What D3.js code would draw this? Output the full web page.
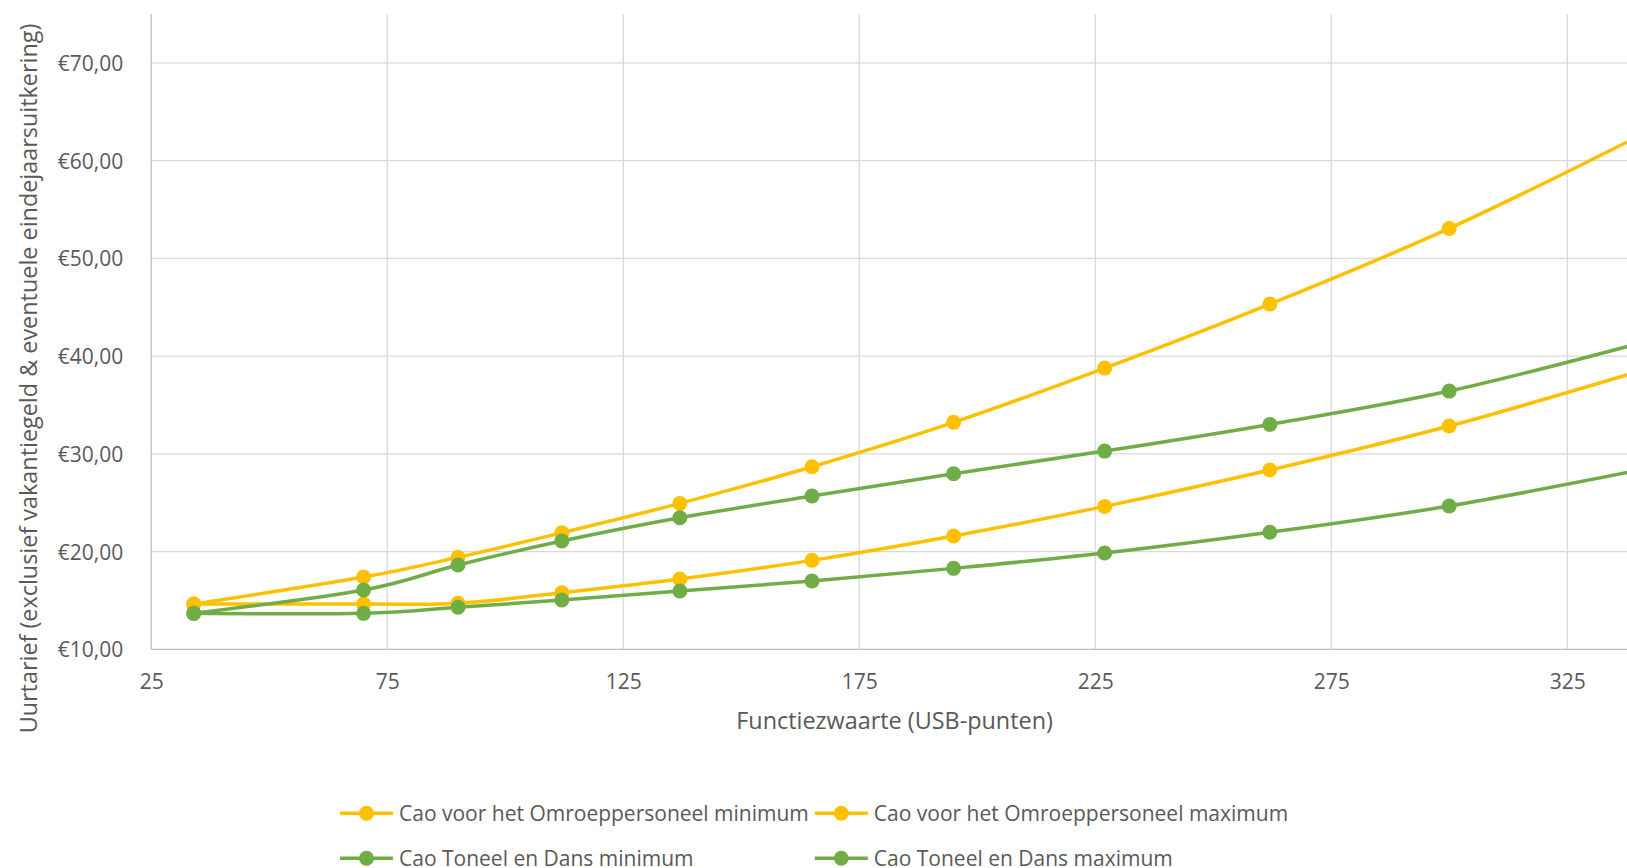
<!DOCTYPE html>
<html>
<head>
<meta charset="utf-8">
<script src="https://cdn.jsdelivr.net/npm/d3@7"></script>
<style>
  body { margin: 0; background: #fff; }
  svg { display: block; }
  text { font-family: "Open Sans", "Noto Sans", sans-serif; fill: #595959; }
</style>
</head>
<body>
<svg id="chart" width="1627" height="868"></svg>
<script>
// Functiezwaarte (USB-punten) of each function level
const usbPoints = [34, 70, 90, 112, 137, 165, 195, 227, 262, 300, 341];

// Hourly rates (euro) per collective agreement
const omroepMin  = [14.63, 14.63, 14.70, 15.79, 17.19, 19.10, 21.59, 24.62, 28.34, 32.84, 38.55];
const omroepMax  = [14.63, 17.39, 19.41, 21.93, 24.93, 28.68, 33.22, 38.77, 45.32, 53.06, 62.70];
const toneelMin  = [13.68, 13.68, 14.30, 15.04, 15.96, 16.99, 18.28, 19.85, 21.97, 24.66, 28.40];
const toneelMax  = [13.68, 16.07, 18.62, 21.08, 23.46, 25.68, 27.96, 30.28, 33.01, 36.42, 41.40];

const seriesNames = [
  "Cao voor het Omroeppersoneel minimum",
  "Cao voor het Omroeppersoneel maximum",
  "Cao Toneel en Dans minimum",
  "Cao Toneel en Dans maximum"
];
const seriesColors = ["#FFC000", "#FFC000", "#70AD47", "#70AD47"];

const xTicks = [25, 75, 125, 175, 225, 275, 325];
const yTicks = [10, 20, 30, 40, 50, 60, 70];
const xDomain = [25, 340];
const yDomain = [10, 75];

const series = [omroepMin, omroepMax, toneelMin, toneelMax].map((vals, i) => ({
  name: seriesNames[i],
  color: seriesColors[i],
  points: usbPoints.map((x, j) => ({ x, y: vals[j] }))
}));

const plot = { left: 151.2, right: 1638, top: 14, bottom: 649.3 };

const svg = d3.select("#chart");

const x = d3.scaleLinear().domain(xDomain).range([plot.left, plot.right]);
const y = d3.scaleLinear().domain(yDomain).range([plot.bottom, plot.top]);

const euro = d3.formatLocale({ decimal: ",", thousands: ".", grouping: [3], currency: ["€", ""] }).format("$.2f");

// Gridlines
svg.append("g").selectAll("line").data(yTicks.slice(1)).join("line")
  .attr("x1", plot.left).attr("x2", plot.right)
  .attr("y1", d => y(d)).attr("y2", d => y(d))
  .attr("stroke", "#D9D9D9").attr("stroke-width", 1.3);
svg.append("g").selectAll("line").data(xTicks).join("line")
  .attr("x1", d => x(d)).attr("x2", d => x(d))
  .attr("y1", plot.top).attr("y2", plot.bottom)
  .attr("stroke", d => d === xTicks[0] ? "#BFBFBF" : "#D9D9D9").attr("stroke-width", 1.3);

// Horizontal axis line
svg.append("line")
  .attr("x1", plot.left).attr("x2", plot.right)
  .attr("y1", y(yDomain[0])).attr("y2", y(yDomain[0]))
  .attr("stroke", "#BFBFBF").attr("stroke-width", 1.3);

// Axes (labels only)
const yAxis = svg.append("g")
  .attr("transform", `translate(${plot.left},0)`)
  .call(d3.axisLeft(y).tickValues(yTicks).tickFormat(euro).tickSize(0).tickPadding(28));
const xAxis = svg.append("g")
  .attr("transform", `translate(0,${plot.bottom})`)
  .call(d3.axisBottom(x).tickValues(xTicks).tickFormat(d3.format("d")).tickSize(0).tickPadding(25));
[yAxis, xAxis].forEach(g => {
  g.select(".domain").remove();
  g.selectAll("text").attr("fill", "#595959")
    .style("font-family", '"Open Sans", "Noto Sans", sans-serif')
    .style("font-size", "21px");
});
yAxis.selectAll("text").attr("dy", "0.36em");

// Axis titles
svg.append("text")
  .attr("x", (plot.left + plot.right) / 2).attr("y", 729)
  .attr("text-anchor", "middle")
  .style("font-size", "23.4px")
  .text("Functiezwaarte (USB-punten)");
svg.append("text")
  .attr("transform", "translate(37,378.5) rotate(-90)")
  .attr("text-anchor", "middle")
  .style("font-size", "23.4px")
  .text("Uurtarief (exclusief vakantiegeld & eventuele eindejaarsuitkering)");

// Series lines and markers, clipped to the plot area
svg.append("clipPath").attr("id", "plot-clip")
  .append("rect")
  .attr("x", plot.left).attr("y", plot.top - 10)
  .attr("width", plot.right - plot.left).attr("height", plot.bottom - plot.top + 20);

const line = d3.line().x(d => x(d.x)).y(d => y(d.y)).curve(d3.curveCardinal.tension(0));

const layer = svg.append("g").attr("clip-path", "url(#plot-clip)");
series.forEach(s => {
  const g = layer.append("g");
  g.append("path")
    .attr("d", line(s.points))
    .attr("fill", "none")
    .attr("stroke", s.color)
    .attr("stroke-width", 3.5)
    .attr("stroke-linejoin", "round");
  g.selectAll("circle").data(s.points).join("circle")
    .attr("cx", d => x(d.x)).attr("cy", d => y(d.y))
    .attr("r", 7.5)
    .attr("fill", s.color);
});

// Legend
const legendPos = [
  { x: 340, y: 813.3 }, { x: 814.8, y: 813.3 },
  { x: 340, y: 858.3 }, { x: 814.8, y: 858.3 }
];
const legend = svg.append("g").selectAll("g").data(series).join("g")
  .attr("transform", (d, i) => `translate(${legendPos[i].x},${legendPos[i].y})`);
legend.append("line")
  .attr("x1", 0).attr("x2", 53).attr("y1", 0).attr("y2", 0)
  .attr("stroke", d => d.color).attr("stroke-width", 3.5);
legend.append("circle")
  .attr("cx", 26.5).attr("cy", 0).attr("r", 7.5)
  .attr("fill", d => d.color);
legend.append("text")
  .attr("x", 59).attr("y", 0).attr("dy", "0.35em")
  .style("font-size", "21px")
  .text(d => d.name);
</script>
</body>
</html>
